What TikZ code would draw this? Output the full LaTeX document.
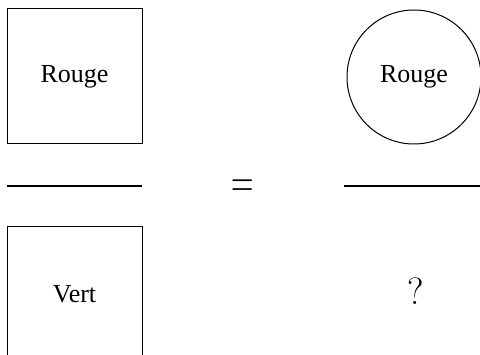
\documentclass[tikz,border=0pt]{standalone}
\usepackage{fontspec}
\newfontfamily\timesfont{Liberation Serif}
\begin{document}
\begin{tikzpicture}[x=1pt,y=-1pt,
  box/.style={draw,line width=1pt,minimum width=135pt,minimum height=135pt,inner sep=0pt,font=\timesfont\fontsize{26}{30}\selectfont},
  disc/.style={draw,circle,line width=1pt,minimum size=134pt,inner sep=0pt,font=\timesfont\fontsize{26}{30}\selectfont},
  bar/.style={line width=1.5pt},
  sym/.style={inner sep=0pt,font=\fontsize{38}{42}\selectfont}]
\useasboundingbox (0,0) rectangle (480,355);
\node[box] (r1) at (74.5,76.5) {Rouge};
\node[disc] (r2) at (414,77) {Rouge};
\node[box] (v1) at (74.5,294.5) {Vert};
\coordinate (l1a) at (7,186);
\coordinate (l1b) at (142,186);
\coordinate (l2a) at (344,186);
\coordinate (l2b) at (482,186);
\draw[bar] (l1a) -- (l1b);
\draw[bar] (l2a) -- (l2b);
\node[inner sep=0pt,font=\fontsize{31}{36}\selectfont] (eq) at (243,188.5) {\scalebox{1}[1.6]{=}};
\node[sym] (q) at (415.5,291) {?};
\end{tikzpicture}
\end{document}
